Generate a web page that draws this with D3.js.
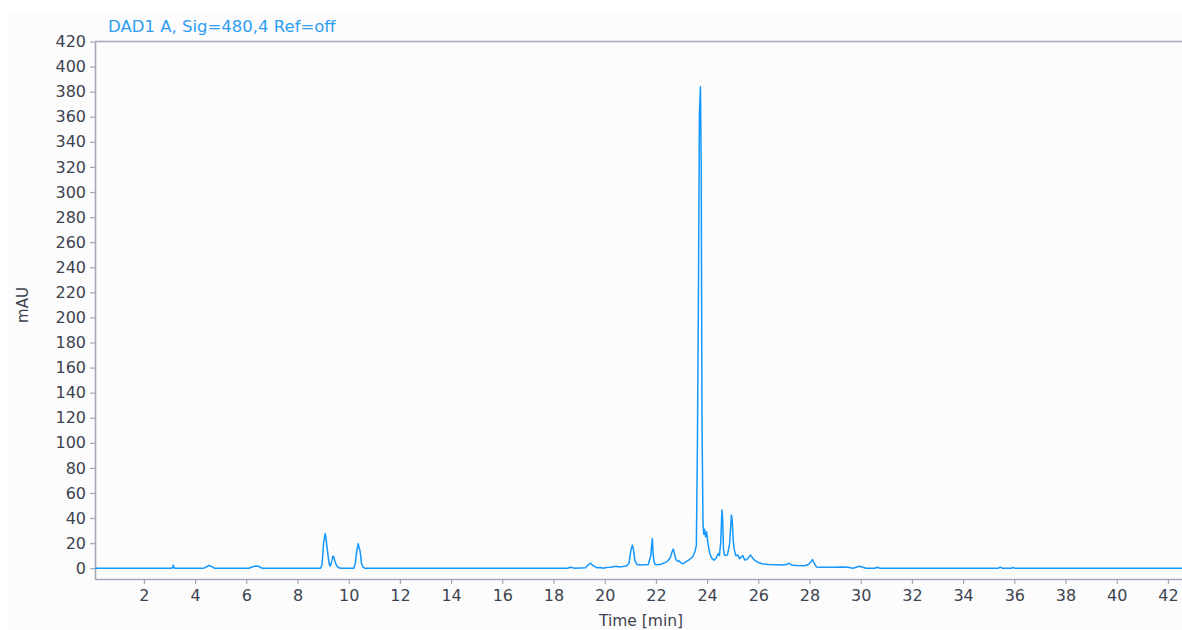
<!DOCTYPE html>
<html>
<head>
<meta charset="utf-8">
<script src="https://cdn.jsdelivr.net/npm/d3@7/dist/d3.min.js"></script>
<style>
  html, body { margin: 0; padding: 0; background: #ffffff; }
  svg { display: block; font-family: "DejaVu Sans", Verdana, sans-serif; }
</style>
</head>
<body>
<svg id="chart" width="1182" height="630"></svg>
<script>
// Chromatogram trace: retention time (min) and detector response (mAU)
const times = [
  0.09, 3.05, 3.12, 3.15, 3.18, 3.25, 4.35, 4.45, 4.55, 4.65, 4.75,
  6.1, 6.25, 6.38, 6.5, 6.62,
  8.9, 8.96, 9.02, 9.08, 9.11, 9.15, 9.2, 9.24, 9.28, 9.33, 9.38, 9.42, 9.47, 9.53, 9.6, 9.68,
  10.2, 10.26, 10.31, 10.37, 10.4, 10.45, 10.5, 10.56, 10.62,
  18.55, 18.65, 18.75, 18.85, 19.25, 19.35, 19.45, 19.55, 19.7, 19.85, 19.95,
  20.05, 20.2, 20.35, 20.45, 20.55, 20.7, 20.85, 20.95, 21.02, 21.08, 21.12, 21.18, 21.26, 21.4,
  21.55, 21.7, 21.8, 21.86, 21.89, 21.92, 21.97, 22.05, 22.2, 22.35, 22.45, 22.55, 22.63, 22.68,
  22.72, 22.78, 22.85, 22.9, 22.96, 23.05, 23.2, 23.35, 23.45, 23.52, 23.58,
  23.62, 23.66, 23.70, 23.74, 23.77, 23.80, 23.84, 23.87, 23.9, 23.94, 23.98, 24.03, 24.1, 24.18,
  24.27, 24.35, 24.43, 24.48, 24.53, 24.58, 24.61, 24.64, 24.68, 24.73, 24.8, 24.88, 24.95, 24.98,
  25.02, 25.06, 25.12, 25.2, 25.27, 25.33, 25.4, 25.47, 25.55, 25.62, 25.7, 25.78, 25.88, 26.0,
  26.15, 26.4, 26.7, 26.95, 27.1, 27.2, 27.3, 27.5, 27.8, 27.95, 28.05, 28.12, 28.18, 28.27, 28.4,
  29.0, 29.3, 29.5, 29.7, 29.85, 29.95, 30.05, 30.2, 30.55, 30.65, 30.75,
  35.38, 35.45, 35.52, 35.9, 35.95, 36.0, 42.55
];
const absorbance = [
  0, 0, 0.3, 2.5, 0.2, 0, 0, 1.2, 2.2, 1.3, 0,
  0, 1.2, 1.8, 1.3, 0,
  0, 3, 20, 27.5, 25, 17, 9, 3, 1.5, 5, 9.5, 9, 5, 2, 0.5, 0,
  0, 4, 13, 19.5, 17, 13, 4, 1, 0,
  0, 0.8, 0.3, 0, 0.3, 2.5, 4, 2, 0.3, 0.5, 0,
  0.6, 0.8, 1.2, 1.5, 0.9, 1.3, 1.8, 4, 14, 18.4, 15, 6, 3, 2.5,
  2.8, 3, 10, 23.7, 12, 6, 3, 2.8, 3.2, 4.5, 5.5, 8, 13, 15.2,
  12, 7, 5.5, 6, 4.5, 3.5, 5.5, 7.5, 9.5, 13, 18,
  95, 215, 363, 384, 320, 118, 35, 27, 31, 25, 29, 20, 12, 8,
  6.4, 8, 11.5, 10, 20, 46.5, 38, 15, 10.5, 10, 11, 20, 42.5, 38,
  22, 15, 10, 10.5, 7.5, 9, 10, 6.5, 7, 8.5, 10.5, 8, 6, 4.5,
  3.5, 3, 2.8, 2.5, 3, 4, 2.5, 2.2, 2, 3, 5, 7, 4, 1, 0.8,
  0.8, 1, 0.8, 0, 1, 1.6, 1, 0, 0, 0.8, 0,
  0, 0.8, 0, 0, 0.6, 0, 0
];

const yTicks = d3.range(0, 421, 20);
const xTicks = d3.range(2, 43, 2);

const title = "DAD1 A, Sig=480,4 Ref=off";
const xLabel = "Time [min]";
const yLabel = "mAU";

(function draw() {
  const svg = d3.select("#chart");
  const W = 1182, H = 630;
  const plotLeft = 95, plotRight = 1182, plotTop = 41.5, plotBottom = 579;

  // panel background
  svg.append("rect").attr("x", 0).attr("y", 0).attr("width", W).attr("height", H).attr("fill", "#ffffff");
  svg.append("rect").attr("x", 8).attr("y", 10).attr("width", W - 8).attr("height", H - 10).attr("fill", "#fcfcfd");

  const x = d3.scaleLinear().domain([0.09, 42.55]).range([plotLeft, plotRight]);
  const y = d3.scaleLinear().domain([-8.6, 420]).range([plotBottom, plotTop]);

  const axisColor = "#a4a8b6";
  const textColor = "#3c4350";
  const font = "DejaVu Sans, Verdana, sans-serif";

  // x axis
  const gx = svg.append("g").attr("transform", `translate(0,${plotBottom})`)
    .call(d3.axisBottom(x).tickValues(xTicks).tickFormat(d3.format("d")).tickSize(5).tickSizeOuter(0).tickPadding(6));
  gx.select(".domain").attr("stroke", axisColor).attr("stroke-width", 1.6);
  gx.selectAll(".tick line").attr("stroke", axisColor).attr("stroke-width", 1.2);
  gx.selectAll(".tick text").attr("fill", textColor).attr("font-size", 16).attr("font-family", font);

  // y axis
  const gy = svg.append("g").attr("transform", `translate(${plotLeft},0)`)
    .call(d3.axisLeft(y).tickValues(yTicks).tickFormat(d3.format("d")).tickSize(5).tickSizeOuter(0).tickPadding(4));
  gy.select(".domain").attr("stroke", axisColor).attr("stroke-width", 1.6);
  gy.selectAll(".tick line").attr("stroke", axisColor).attr("stroke-width", 1.2);
  gy.selectAll(".tick text").attr("fill", textColor).attr("font-size", 16).attr("font-family", font);

  // top frame line
  svg.append("line").attr("x1", plotLeft).attr("x2", plotRight).attr("y1", plotTop).attr("y2", plotTop)
    .attr("stroke", axisColor).attr("stroke-width", 1.6);

  // signal trace
  const pts = times.map((t, i) => [t, absorbance[i]]);
  const line = d3.line().x(d => x(d[0])).y(d => y(d[1]));
  svg.append("path").datum(pts)
    .attr("d", line)
    .attr("fill", "none")
    .attr("stroke", "#1497ff")
    .attr("stroke-width", 1.5)
    .attr("stroke-linejoin", "round");

  // title
  svg.append("text").attr("x", 108).attr("y", 32).text(title)
    .attr("fill", "#2e9ef2").attr("font-size", 16.5).attr("font-family", font);

  // axis titles
  svg.append("text").attr("x", 641).attr("y", 626).attr("text-anchor", "middle").text(xLabel)
    .attr("fill", textColor).attr("font-size", 15.5).attr("font-family", font);
  svg.append("text").attr("transform", "translate(28,305) rotate(-90)").attr("text-anchor", "middle").text(yLabel)
    .attr("fill", textColor).attr("font-size", 15).attr("font-family", font);
})();
</script>
</body>
</html>
